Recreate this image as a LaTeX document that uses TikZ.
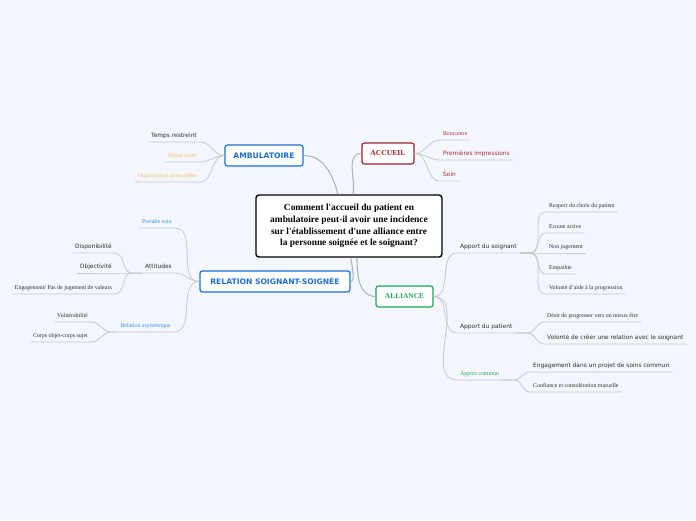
\documentclass[tikz,border=0pt]{standalone}
\usepackage{fontspec}
\setmainfont{Liberation Serif}
\setsansfont{DejaVu Sans}
\definecolor{bgc}{RGB}{243,246,253}
\definecolor{lnk}{RGB}{200,200,205}
\definecolor{mlnk}{RGB}{180,180,184}
\definecolor{ambc}{RGB}{28,110,210}
\definecolor{accc}{RGB}{155,35,40}
\definecolor{allc}{RGB}{30,165,85}
\definecolor{orc}{RGB}{240,190,90}
\definecolor{rosec}{RGB}{170,40,65}
\definecolor{skyc}{RGB}{50,150,210}
\definecolor{dark}{RGB}{45,45,45}
\newcommand\lblsf{\sffamily\fontsize{5.9}{7}\selectfont}
\newcommand\lblrm{\rmfamily\fontsize{5.9}{7}\selectfont}

\begin{document}
\begin{tikzpicture}[x=1pt,y=-1pt,
    topic/.style={draw, fill=white, line width=1.2pt, rounded corners=2.5pt, minimum height=21pt, inner sep=0pt, font=\sffamily\bfseries\fontsize{7.6}{8}\selectfont},
    leaf/.style={inner xsep=3pt, inner ysep=2.4pt, text height=4.4pt, text depth=1.6pt, text=dark, font=\lblsf},
    leafw/.style={leaf, anchor=south east},
    leafe/.style={leaf, anchor=south west},
    link/.style={draw=lnk, line width=0.8pt},
    mainlink/.style={draw=mlnk, line width=1.1pt}]
    \fill[bgc] (0,0) rectangle (696,520);
    % central question and main topics
    \node[draw, fill=white, line width=1.4pt, rounded corners=3pt, minimum width=186pt, minimum height=62pt, align=center,
      font=\rmfamily\bfseries\fontsize{9.4}{11.7}\selectfont] (cen) at (349,226)
      {Comment l\textquotesingle accueil du patient en\\ambulatoire peut-il avoir une incidence\\sur l\textquotesingle établissement d\textquotesingle une alliance entre\\la personne soignée et le soignant?};
    \node[topic, draw=ambc, text=ambc, minimum width=78pt] (amb) at (264,155.5) {AMBULATOIRE};
    \node[topic, draw=accc, text=accc, minimum width=52pt, font=\rmfamily\bfseries\fontsize{7.6}{8}\selectfont] (acc) at (388,153.5) {ACCUEIL};
    \node[topic, draw=ambc, text=ambc, minimum width=150pt] (rel) at (275,281.5) {RELATION SOIGNANT-SOIGNÉE};
    \node[topic, draw=allc, text=allc, minimum width=57pt, font=\rmfamily\bfseries\fontsize{7.4}{8}\selectfont] (all) at (404.5,296.5) {ALLIANCE};
    \draw[mainlink] (amb.east) to[out=0,in=105] ([xshift=-11pt]cen.north);
    \draw[mainlink] (acc.west) to[out=180,in=80] ([xshift=4pt]cen.north);
    \draw[mainlink] ([xshift=2pt]cen.south) to[out=-90,in=0,looseness=0.6] (rel.east);
    \draw[mainlink] ([xshift=8pt]cen.south) to[out=-90,in=180] (all.west);
    % AMBULATOIRE
    \node[leafw] (tr) at (200,142) {Temps restreint};
    \node[leafw, font=\lblrm, text=orc] (sc) at (200,162) {Séjour court};
    \node[leafw, font=\lblrm, text=orc] (op) at (200,182) {Organisation particulière};
    \foreach \k in {tr,sc,op}
      \draw[link] (amb.west) to[out=180,in=0] (\k.south east) -- (\k.south west);
    % ACCUEIL
    \node[leafe, font=\lblrm, text=rosec] (ren) at (440,140) {Rencontre};
    \node[leafe, text=rosec] (pi) at (440,160) {Premières impressions};
    \node[leafe, text=rosec] (soin) at (440,181) {Soin};
    \foreach \k in {ren,pi,soin}
      \draw[link] (acc.east) to[out=0,in=180] (\k.south west) -- (\k.south east);
    % RELATION SOIGNANT-SOIGNEE
    \node[leafw, font=\lblrm, text=skyc] (ps) at (175,228) {Prendre soin};
    \node[leafw] (att) at (175,273) {Attitudes};
    \node[leafw, font=\lblrm, text=skyc] (ra) at (174,332) {Relation asymétrique};
    \foreach \k in {ps,att,ra}
      \draw[link] (rel.west) to[out=180,in=0] (\k.south east) -- (\k.south west);
    \node[leafw] (dis) at (115,253) {Disponibilité};
    \node[leafw] (obj) at (115,273) {Objectivité};
    \node[leafw, font=\lblrm] (eng) at (115,294) {Engagement/ Pas de jugement de valeurs};
    \foreach \k in {dis,obj,eng}
      \draw[link] (att.south west) -- ++(-10,0) to[out=180,in=0] (\k.south east) -- (\k.south west);
    \node[leafw, font=\lblrm] (vul) at (91,322) {Vulnérabilité};
    \node[leafw, font=\lblrm] (cos) at (91,342) {Corps objet-corps sujet};
    \foreach \k in {vul,cos}
      \draw[link] (ra.south west) -- ++(-6,0) to[out=180,in=0] (\k.south east) -- (\k.south west);
    % ALLIANCE
    \node[leafe] (as) at (457,253) {Apport du soignant};
    \node[leafe] (ap) at (457,333) {Apport du patient};
    \node[leafe, font=\lblrm, text=allc] (ac) at (457,380) {Apport commun};
    \foreach \k in {as,ap,ac}
      \draw[link] (all.east) to[out=0,in=180] (\k.south west) -- (\k.south east);
    \node[leafe, font=\lblrm] (rc) at (546,212) {Respect du choix du patient};
    \node[leafe, font=\lblrm] (ea) at (546,233) {Ecoute active};
    \node[leafe, font=\lblrm] (nj) at (546,253) {Non jugement};
    \node[leafe, font=\lblrm] (emp) at (546,274) {Empathie};
    \node[leafe, font=\lblrm] (va) at (546,294) {Volonté d'aide à la progression};
    \foreach \k in {rc,ea,nj,emp,va}
      \draw[link] (as.south east) -- ++(10,0) to[out=0,in=180] (\k.south west) -- (\k.south east);
    \node[leafe, font=\lblrm] (dp) at (544,322) {Désir de progresser vers un mieux être};
    \node[leafe] (vc) at (544,344) {Volonté de créer une relation avec le soignant};
    \foreach \k in {dp,vc}
      \draw[link] (ap.south east) -- ++(12,0) to[out=0,in=180] (\k.south west) -- (\k.south east);
    \node[leafe] (ep) at (530,372) {Engagement dans un projet de soins commun};
    \node[leafe, font=\lblrm] (cm) at (530,392) {Confiance et considération mutuelle};
    \foreach \k in {ep,cm}
      \draw[link] (ac.south east) -- ++(12,0) to[out=0,in=180] (\k.south west) -- (\k.south east);
  \end{tikzpicture}
\end{document}
